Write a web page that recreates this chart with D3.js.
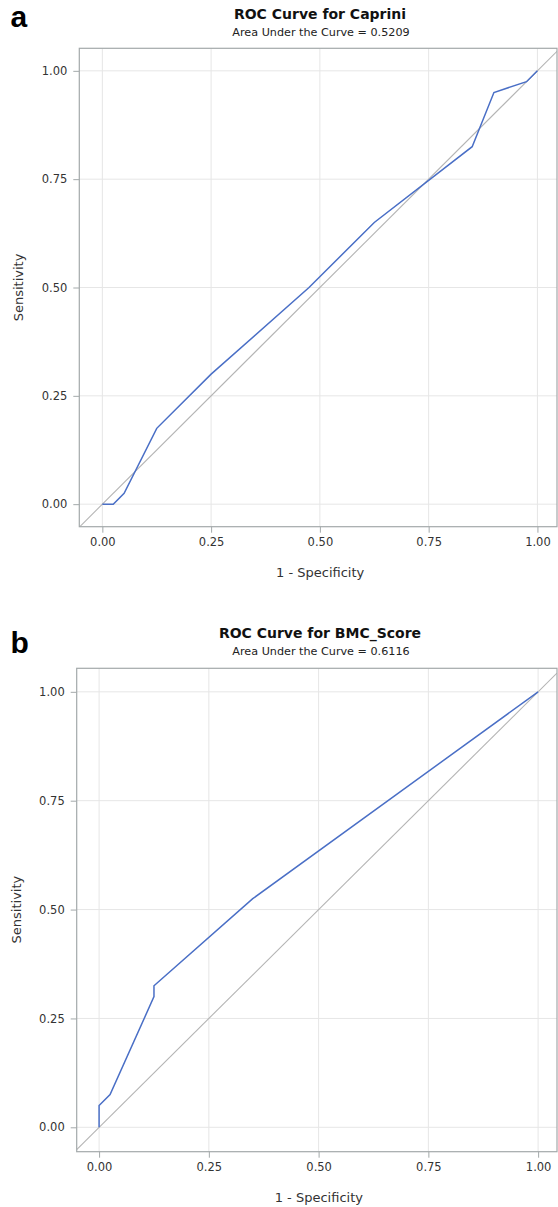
<!DOCTYPE html>
<html>
<head>
<meta charset="utf-8">
<script src="https://cdn.jsdelivr.net/npm/d3@7"></script>
<style>
  body { margin: 0; background: #fff; }
  svg { display: block; }
</style>
</head>
<body>
<svg id="chart" width="558" height="1207"></svg>
<script>
// ROC points: 1 - specificity, sensitivity
const capriniFpr = [0, 0.025, 0.05, 0.125, 0.25, 0.475, 0.625, 0.85, 0.9, 0.975, 1];
const capriniTpr = [0, 0, 0.025, 0.175, 0.3, 0.5, 0.65, 0.825, 0.95, 0.975, 1];
const bmcFpr = [0, 0, 0.025, 0.125, 0.125, 0.35, 1];
const bmcTpr = [0, 0.05, 0.075, 0.3, 0.325, 0.525, 1];

const titles = ["ROC Curve for Caprini", "ROC Curve for BMC_Score"];
const subtitles = ["Area Under the Curve = 0.5209", "Area Under the Curve = 0.6116"];
const panelLetters = ["a", "b"];
const tickValues = [0, 0.25, 0.5, 0.75, 1];
const xLabel = "1 - Specificity";
const yLabel = "Sensitivity";

const svg = d3.select("#chart");
const font = "'DejaVu Sans', Verdana, sans-serif";

// frame box and data range of each panel (pixels)
const panels = [
  { fpr: capriniFpr, tpr: capriniTpr, left: 79.3, right: 557, top: 48.3, bottom: 526.7,
    xd: [-0.053, 1.045], yd: [-0.052, 1.052], letterY: 27, titleY: 19, subY: 35.7 },
  { fpr: bmcFpr, tpr: bmcTpr, left: 76.7, right: 557, top: 668.3, bottom: 1151.7,
    xd: [-0.051, 1.043], yd: [-0.056, 1.054], letterY: 653, titleY: 638.3, subY: 655 }
];

function drawPanel(p, i) {
  const x = d3.scaleLinear().domain(p.xd).range([p.left, p.right]);
  const y = d3.scaleLinear().domain(p.yd).range([p.bottom, p.top]);
  const g = svg.append("g");

  g.append("clipPath").attr("id", "clip" + i)
    .append("rect")
    .attr("x", p.left).attr("y", p.top)
    .attr("width", p.right - p.left).attr("height", p.bottom - p.top);

  // grid
  g.append("g").selectAll("line.gx").data(tickValues).enter().append("line")
    .attr("x1", d => x(d)).attr("x2", d => x(d))
    .attr("y1", p.top).attr("y2", p.bottom)
    .attr("stroke", "#e6e6e6").attr("stroke-width", 1);
  g.append("g").selectAll("line.gy").data(tickValues).enter().append("line")
    .attr("y1", d => y(d)).attr("y2", d => y(d))
    .attr("x1", p.left).attr("x2", p.right)
    .attr("stroke", "#e6e6e6").attr("stroke-width", 1);

  // chance diagonal
  g.append("line")
    .attr("clip-path", "url(#clip" + i + ")")
    .attr("x1", x(p.xd[0])).attr("y1", y(p.xd[0]))
    .attr("x2", x(p.xd[1])).attr("y2", y(p.xd[1]))
    .attr("stroke", "#b4b4b4").attr("stroke-width", 1.1);

  // ROC curve
  const pts = p.fpr.map((v, k) => [v, p.tpr[k]]);
  g.append("path")
    .datum(pts)
    .attr("clip-path", "url(#clip" + i + ")")
    .attr("fill", "none")
    .attr("stroke", "#4a6fc6")
    .attr("stroke-width", 1.5)
    .attr("d", d3.line().x(d => x(d[0])).y(d => y(d[1])));

  // frame
  g.append("rect")
    .attr("x", p.left).attr("y", p.top)
    .attr("width", p.right - p.left).attr("height", p.bottom - p.top)
    .attr("fill", "none").attr("stroke", "#a3a9aa").attr("stroke-width", 1.2);

  // axes
  const xAxis = g.append("g")
    .attr("transform", "translate(0," + p.bottom + ")")
    .call(d3.axisBottom(x).tickValues(tickValues).tickFormat(d3.format(".2f"))
      .tickSizeOuter(0).tickSizeInner(6).tickPadding(5));
  const yAxis = g.append("g")
    .attr("transform", "translate(" + p.left + ",0)")
    .call(d3.axisLeft(y).tickValues(tickValues).tickFormat(d3.format(".2f"))
      .tickSizeOuter(0).tickSizeInner(6).tickPadding(6));
  [xAxis, yAxis].forEach(a => {
    a.select(".domain").remove();
    a.selectAll("line").attr("stroke", "#a3a9aa");
    a.selectAll("text").attr("fill", "#333").style("font-family", font).style("font-size", "11.5px");
  });

  // axis labels
  g.append("text")
    .attr("x", (p.left + p.right) / 2 + 2).attr("y", p.bottom + 50)
    .attr("text-anchor", "middle")
    .style("font-family", font).style("font-size", "13px").attr("fill", "#333")
    .text(xLabel);
  g.append("text")
    .attr("transform", "translate(" + (p.left - 56) + "," + (y(0.5)) + ") rotate(-90)")
    .attr("text-anchor", "middle")
    .style("font-family", font).style("font-size", "13px").attr("fill", "#333")
    .text(yLabel);

  // titles
  g.append("text")
    .attr("x", 320).attr("y", p.titleY)
    .attr("text-anchor", "middle")
    .style("font-family", font).style("font-size", "14px").style("font-weight", "bold")
    .attr("fill", "#111")
    .text(titles[i]);
  g.append("text")
    .attr("x", 321).attr("y", p.subY)
    .attr("text-anchor", "middle")
    .style("font-family", font).style("font-size", "11.2px")
    .attr("fill", "#222")
    .text(subtitles[i]);

  // panel letter
  g.append("text")
    .attr("x", 10.5).attr("y", p.letterY)
    .style("font-family", "'Liberation Sans', Arial, sans-serif")
    .style("font-size", "30px").style("font-weight", "bold")
    .attr("fill", "#000")
    .text(panelLetters[i]);
}

panels.forEach(drawPanel);
</script>
</body>
</html>
